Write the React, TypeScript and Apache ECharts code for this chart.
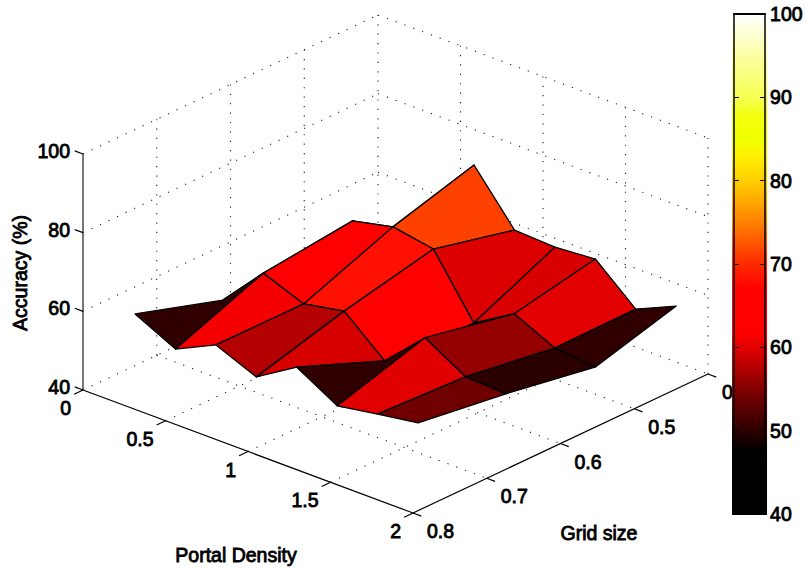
import React, { useEffect, useRef } from "react";
import * as echarts from "echarts";

// ---- data ----
const portalDensity = [0.28, 0.525, 0.77, 1.015, 1.26, 1.505, 1.75, 1.995];
const gridSize = [0.792, 0.673, 0.552, 0.442];

const accuracyG1 = [63.0, 57.9, 62.8, 58.5, 64.8, 58.8, 60.5, 62.1];
const accuracyG2 = [56.0, 66.7, 62.7, 64.7, 55.9, 65.6, 59.5, 59.0];
const accuracyG3 = [47.9, 69.3, 71.6, 69.8, 54.8, 61.0, 56.1, 55.1];
const accuracyG4 = [42.0, 54.7, 77.6, 64.9, 64.4, 65.2, 56.3, 60.9];

const colourG1 = [50.35, 61.35, 57.7, 59.5, 50.35, 60.0, 54.07];
const colourG2 = [50.35, 63.0, 68.2, 63.0, 63.0, 56.1, 50.0];
const colourG3 = [50.0, 50.0, 71.4, 59.85, 59.6, 60.1, 50.35];

const pTicks = [0, 0.5, 1, 1.5, 2];
const pTickLabels = ["0", "0.5", "1", "1.5", "2"];
const gTicks = [0.8, 0.7, 0.6, 0.5, 0.4];
const gTickLabels = ["0.8", "0.7", "0.6", "0.5", "0.4"];
const zTicks = [40, 60, 80, 100];
const zTickLabels = ["40", "60", "80", "100"];

const colourStops: [number, number, number, number][] = [
  [40, 0, 0, 0],
  [47.6, 0, 0, 0],
  [50, 42, 0, 0],
  [55, 128, 0, 0],
  [60, 224, 0, 0],
  [62, 255, 0, 0],
  [67, 255, 0, 0],
  [70, 255, 40, 0],
  [75, 255, 128, 0],
  [80, 255, 204, 0],
  [83, 255, 240, 0],
  [85, 240, 255, 0],
  [88, 242, 255, 16],
  [90, 245, 255, 80],
  [95, 251, 255, 160],
  [100, 255, 255, 255],
];

// ---- helpers ----
const FONT = '19.5px "Liberation Sans", Arial, sans-serif';
const TEXT_WEIGHT = 0.85;
const accuracy = [accuracyG1, accuracyG2, accuracyG3, accuracyG4];
const colours = [colourG1, colourG2, colourG3];

function colourOf(v: number): string {
  for (let k = 1; k < colourStops.length; k++) {
    const a = colourStops[k - 1];
    const b = colourStops[k];
    if (v <= b[0]) {
      const t = (v - a[0]) / (b[0] - a[0]);
      const c = [1, 2, 3].map((n) => Math.round(a[n] + (b[n] - a[n]) * t));
      return `rgb(${c[0]},${c[1]},${c[2]})`;
    }
  }
  return "#fff";
}

// orthographic view of the (density, grid, accuracy) box onto the hidden 0..1 scene axes
function project(p: number, g: number, z: number): number[] {
  const pn = p / 2;
  const gn = (0.8 - g) / 0.4;
  const zn = (z - 40) / 60;
  return [0.528 * pn + 0.472 * gn, (123 * (1 - pn) + 139 * gn + 236 * zn) / 498];
}

type Seg = number[];
const P0 = pTicks[0];
const P1 = pTicks[pTicks.length - 1];
const G0 = gTicks[0];
const G1 = gTicks[gTicks.length - 1];
const Z0 = zTicks[0];
const Z1 = zTicks[zTicks.length - 1];

const dottedSegs: Seg[] = [];
gTicks.slice(1).forEach((g) => {
  dottedSegs.push([P0, g, Z0, P1, g, Z0]);
  dottedSegs.push([P0, g, Z0, P0, g, Z1]);
});
pTicks.slice(0, -1).forEach((p) => dottedSegs.push([p, G0, Z0, p, G1, Z0]));
pTicks.slice(1).forEach((p) => dottedSegs.push([p, G1, Z0, p, G1, Z1]));
zTicks.slice(1).forEach((z) => {
  dottedSegs.push([P0, G0, z, P0, G1, z]);
  dottedSegs.push([P0, G1, z, P1, G1, z]);
});

const axisSegs: Seg[] = [
  [P0, G0, Z0, P1, G0, Z0],
  [P1, G0, Z0, P1, G1, Z0],
];
pTicks.forEach((p) => axisSegs.push([p, G0, Z0, p, G0 + 0.012, Z0]));
gTicks.forEach((g) => axisSegs.push([P1, g, Z0, P1 + 0.05, g, Z0]));
zTicks.forEach((z) => axisSegs.push([P0, G0, z, P0 - 0.05, G0, z]));

// far rows first; the fold at density index 3/4 of the second row is painted back to front
const rowOrders = [
  [2, [0, 1, 2, 3, 4, 5, 6]],
  [1, [0, 1, 2, 4, 3, 5, 6]],
  [0, [0, 1, 2, 3, 4, 5, 6]],
] as [number, number[]][];
const faceData: number[][] = [];
rowOrders.forEach(([j, order]) => order.forEach((i) => faceData.push([i, j, colours[j][i]])));

const colourLevels: number[] = [];
for (let k = 0; k < 150; k++) colourLevels.push(Z0 + ((Z1 - Z0) * k) / 150);

function App() {
  const ref = useRef<HTMLDivElement>(null);
  useEffect(() => {
    const chart = echarts.init(ref.current!, undefined, { renderer: "svg" });

    const segRenderer = (style: any) => (_: any, api: any) => {
      const a = api.coord(project(api.value(0), api.value(1), api.value(2)));
      const b = api.coord(project(api.value(3), api.value(4), api.value(5)));
      return {
        type: "line",
        shape: { x1: a[0], y1: a[1], x2: b[0], y2: b[1] },
        style,
      };
    };

    const labelStyle = (text: string, align: string) => ({
      text,
      font: FONT,
      fill: "#000",
      stroke: "#000",
      lineWidth: TEXT_WEIGHT,
      align,
      textAlign: align,
      verticalAlign: "middle",
      textVerticalAlign: "middle",
    });

    const textItem = (text: string, x: number, y: number, align: string) => ({
      type: "text",
      style: { ...labelStyle(text, align), x, y },
    });

    const sceneSeries = (name: string, data: number[][], renderItem: any, z: number) => ({
      type: "custom",
      name,
      xAxisIndex: 0,
      yAxisIndex: 0,
      silent: true,
      z,
      data,
      renderItem,
    });

    chart.setOption({
      animation: false,
      backgroundColor: "#fff",
      grid: [
        { left: 83, right: 98, top: 15, bottom: 58, show: false },
        { left: 734, right: 39, top: 14, bottom: 57, show: false },
      ],
      xAxis: [
        { type: "value", gridIndex: 0, min: 0, max: 1, show: false },
        {
          type: "value",
          gridIndex: 1,
          min: 0,
          max: 1,
          position: "top",
          z: 10,
          axisLine: { show: true, onZero: false, lineStyle: { color: "#000", width: 2 } },
          axisTick: { show: false },
          axisLabel: { show: false },
          splitLine: { show: false },
        },
      ],
      yAxis: [
        { type: "value", gridIndex: 0, min: 0, max: 1, show: false },
        {
          type: "value",
          gridIndex: 1,
          min: Z0,
          max: Z1,
          interval: 10,
          position: "left",
          z: 10,
          axisLine: { show: true, onZero: false, lineStyle: { color: "#000", width: 1.5 } },
          axisTick: { show: true, inside: true, length: 5, lineStyle: { color: "#000", width: 1 } },
          axisLabel: { show: false },
          splitLine: { show: false },
        },
        {
          type: "value",
          gridIndex: 1,
          min: Z0,
          max: Z1,
          interval: 10,
          position: "right",
          z: 10,
          axisLine: { show: true, onZero: false, lineStyle: { color: "#000", width: 1.5 } },
          axisTick: { show: true, inside: true, length: 5, lineStyle: { color: "#000", width: 1 } },
          axisLabel: {
            show: true,
            margin: 5,
            color: "#000",
            fontFamily: '"Liberation Sans", Arial, sans-serif',
            fontSize: 19.5,
            textBorderColor: "#000",
            textBorderWidth: TEXT_WEIGHT,
          },
          splitLine: { show: false },
        },
      ],
      series: [
        sceneSeries(
          "grid",
          dottedSegs,
          segRenderer({ stroke: "#222", lineWidth: 1.1, lineDash: [1.2, 8.2] }),
          1
        ),
        sceneSeries(
          "accuracy axis",
          [[P0, G0, Z0, P0, G0, Z1]],
          segRenderer({ stroke: "#555", lineWidth: 1.6 }),
          2
        ),
        sceneSeries("axes", axisSegs, segRenderer({ stroke: "#000", lineWidth: 1.2 }), 2),
        sceneSeries(
          "surface",
          faceData,
          (_: any, api: any) => {
            const i = api.value(0);
            const j = api.value(1);
            const corners = [
              [i, j],
              [i + 1, j],
              [i + 1, j + 1],
              [i, j + 1],
            ];
            const points = corners.map(([a, b]) =>
              api.coord(project(portalDensity[a], gridSize[b], accuracy[b][a]))
            );
            return {
              type: "polygon",
              shape: { points },
              style: {
                fill: colourOf(api.value(2)),
                stroke: "#000",
                lineWidth: 1.3,
                lineJoin: "round",
              },
            };
          },
          3
        ),
        sceneSeries(
          "density labels",
          pTicks.map((p) => [p]),
          (params: any, api: any) => {
            const a = api.coord(project(api.value(0), G0, Z0));
            return textItem(pTickLabels[params.dataIndex], a[0] - 12, a[1] + 18, "right");
          },
          4
        ),
        sceneSeries(
          "grid labels",
          gTicks.map((g) => [g]),
          (params: any, api: any) => {
            const a = api.coord(project(P1, api.value(0), Z0));
            return textItem(gTickLabels[params.dataIndex], a[0] + 14, a[1] + 18, "left");
          },
          4
        ),
        sceneSeries(
          "accuracy labels",
          zTicks.map((z) => [z]),
          (params: any, api: any) => {
            const a = api.coord(project(P0, G0, api.value(0)));
            return textItem(zTickLabels[params.dataIndex], a[0] - 13, a[1] - 3, "right");
          },
          4
        ),
        {
          type: "custom",
          name: "colour bar",
          xAxisIndex: 1,
          yAxisIndex: 1,
          silent: true,
          z: 6,
          data: colourLevels.map((v) => [v]),
          renderItem: (params: any, api: any) => {
            const v = api.value(0);
            const step = (Z1 - Z0) / colourLevels.length;
            const a = api.coord([0, v]);
            const b = api.coord([1, v + step]);
            return {
              type: "rect",
              shape: { x: a[0] - 2, y: b[1], width: b[0] - a[0] + 4, height: a[1] - b[1] + 1 },
              style: { fill: colourOf(v + step / 2), stroke: "none" },
            };
          },
        },
      ],
      graphic: [
        {
          type: "text",
          x: 20,
          y: 273,
          rotation: Math.PI / 2,
          z: 20,
          style: labelStyle("Accuracy (%)", "center"),
        },
        { type: "text", x: 236, y: 555, z: 20, style: labelStyle("Portal Density", "center") },
        { type: "text", x: 599, y: 533, z: 20, style: labelStyle("Grid size", "center") },
      ],
    });
    return () => chart.dispose();
  }, []);
  return (
    <div
      ref={ref}
      style={{ position: "absolute", left: 0, top: 0, width: 806, height: 571 }}
    />
  );
}

export default App;
